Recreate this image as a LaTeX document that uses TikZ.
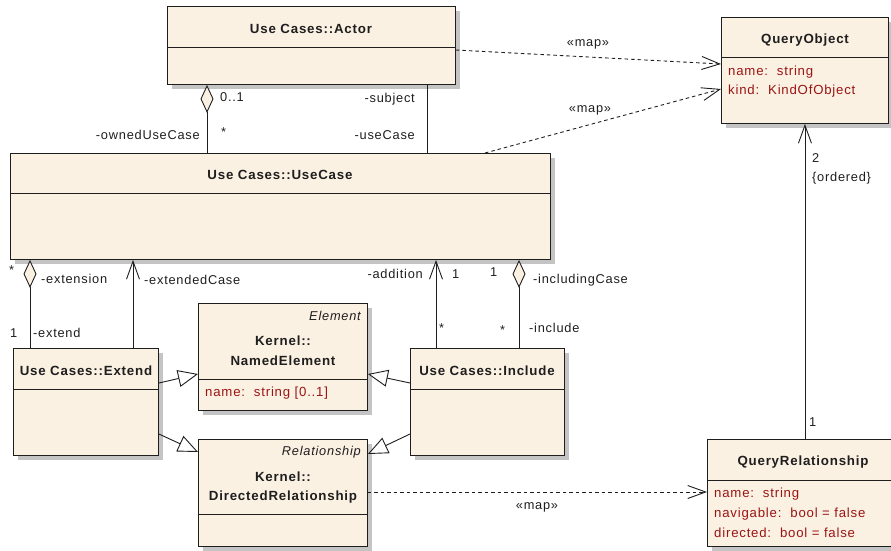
\documentclass[tikz,border=0pt]{standalone}
\usepackage{fontspec}
\setmainfont{Liberation Sans}[LetterSpace=6]
\usetikzlibrary{arrows.meta,calc}
\definecolor{boxfill}{RGB}{251,241,227}
\definecolor{attr}{RGB}{155,20,20}
\definecolor{shadowgray}{RGB}{196,196,196}
\definecolor{ink}{RGB}{30,30,30}
\tikzset{
  umlbox/.style={draw=ink, line width=0.9pt, fill=boxfill, anchor=north west, inner sep=0pt},
  divider/.style={draw=ink, line width=0.9pt},
  boxshadow/.style={fill=shadowgray, draw=none},
  title/.style={font=\fontsize{13.3}{15}\selectfont\bfseries, inner sep=0pt, text=ink},
  lbl/.style={font=\fontsize{12.8}{14}\selectfont, inner sep=0pt, text=ink},
  attrtxt/.style={font=\fontsize{13.2}{15}\selectfont, text=attr, anchor=west, inner sep=0pt},
  stereo/.style={font=\fontsize{12.8}{14}\selectfont\itshape, anchor=east, inner sep=0pt, text=ink},
  assoc/.style={draw=ink, line width=0.9pt},
  nav/.style={assoc, -{Straight Barb[length=18pt,width=13pt]}},
  aggr/.style={assoc, {Diamond[fill=boxfill,length=28pt,width=13pt]}-},
  gen/.style={assoc, -{Triangle[fill=white,length=20pt,width=17pt]}},
  mapdep/.style={assoc, dash pattern=on 3.5pt off 3pt, -{Straight Barb[length=18pt,width=13pt]}},
}
% #1 name, #2 x, #3 y, #4 width, #5 height, #6 divider offset
\newcommand{\umlclassbox}[6]{%
  \fill[boxshadow] (#2+5,#3+5) rectangle ++(#4,#5);
  \node[umlbox, minimum width=#4pt, minimum height=#5pt] (#1) at (#2,#3) {};
  \draw[divider] ($(#1.north west)+(0,#6)$) -- ($(#1.north east)+(0,#6)$);
}
\begin{document}
\begin{tikzpicture}[x=1pt,y=-1pt]
\useasboundingbox (0,0) rectangle (891,550);
% boxes
\umlclassbox{actor}{167}{6}{288}{78}{41}
\umlclassbox{qobj}{721}{17}{167}{106}{40}
\umlclassbox{usecase}{10}{153}{540}{106}{40}
\umlclassbox{extend}{13}{348}{145}{107}{41}
\umlclassbox{named}{198}{303}{169}{107}{76}
\umlclassbox{dr}{198}{439}{169}{107}{75}
\umlclassbox{include}{410}{348}{154}{107}{41}
\umlclassbox{qrel}{707}{439}{193}{107}{41}
% titles
\node[title] (tactor) at (311,29) {Use Cases::Actor};
\node[title] (tqobj) at (805,40) {QueryObject};
\node[title] (tuse) at (280,175) {Use Cases::UseCase};
\node[title] (text) at (86,371) {Use Cases::Extend};
\node[title] (tinc) at (487,371) {Use Cases::Include};
\node[title] (tqrel) at (803,462) {QueryRelationship};
\node[stereo] (sel) at (361,316) {Element};
\node[title] (tne1) at (283,341) {Kernel::};
\node[title] (tne2) at (283,361) {NamedElement};
\node[stereo] (srel) at (361,452) {Relationship};
\node[title] (tdr1) at (283,477) {Kernel::};
\node[title] (tdr2) at (283,497) {DirectedRelationship};
% attributes
\node[attrtxt] (a1) at (728,72) {name:\ \ string};
\node[attrtxt] (a2) at (728,91) {kind:\ \ KindOfObject};
\node[attrtxt] (a3) at (205,393) {name:\ \ string [0..1]};
\node[attrtxt] (a4) at (714,494) {name:\ \ string};
\node[attrtxt] (a5) at (714,514) {navigable:\ \ bool = false};
\node[attrtxt] (a6) at (714,533) {directed:\ \ bool = false};
% connectors
\draw[aggr] ($(actor.south west)+(40,0)$) -- ($(usecase.north west)+(197,0)$);
\draw[assoc] ($(actor.south west)+(260,0)$) -- ($(usecase.north west)+(417,0)$);
\draw[mapdep] ($(actor.north east)+(0,44)$) -- ($(qobj.north west)+(0,47)$);
\draw[mapdep] ($(usecase.north west)+(475,0)$) -- ($(qobj.north west)+(0,72)$);
\draw[nav] (qrel.north -| qobj.south) -- (qobj.south);
\draw[aggr] ($(usecase.south west)+(20,0)$) -- ($(extend.north west)+(17,0)$);
\draw[nav] ($(extend.north west)+(120,0)$) -- ($(usecase.south west)+(123,0)$);
\draw[nav] ($(include.north west)+(26,0)$) -- ($(usecase.south west)+(426,0)$);
\draw[aggr] ($(usecase.south west)+(509,0)$) -- ($(include.north west)+(109,0)$);
\draw[gen] ($(extend.north east)+(0,35)$) -- ($(named.north west)+(0,71)$);
\draw[gen] ($(extend.north east)+(0,86)$) -- ($(dr.north west)+(0,13)$);
\draw[gen] ($(include.north west)+(0,35)$) -- ($(named.north east)+(0,71)$);
\draw[gen] ($(include.north west)+(0,86)$) -- ($(dr.north east)+(0,15)$);
\draw[mapdep] ($(dr.north east)+(0,53)$) -- ($(qrel.north west)+(0,53)$);
% labels
\node[lbl] (m1) at (588,44) {«map»};
\node[lbl] (m2) at (590,110) {«map»};
\node[lbl] (m3) at (537,507) {«map»};
\node[lbl, anchor=west] (l2) at (812,158) {2};
\node[lbl, anchor=west] (lord) at (812,178) {\{ordered\}};
\node[lbl, anchor=west] (l1q) at (809,422) {1};
\node[lbl, anchor=west] (l01) at (220,97) {0..1};
\node[lbl, anchor=east] (lsub) at (415,99) {-subject};
\node[lbl, anchor=west] (lst1) at (221,132) {*};
\node[lbl, anchor=east] (lown) at (200,135) {-ownedUseCase};
\node[lbl, anchor=east] (luc) at (415,135) {-useCase};
\node[lbl, anchor=west] (lst2) at (9,270) {*};
\node[lbl, anchor=west] (lext) at (41,279) {-extension};
\node[lbl, anchor=west] (lextc) at (144,280) {-extendedCase};
\node[lbl, anchor=west] (l1e) at (10,333) {1};
\node[lbl, anchor=west] (lexd) at (33,333) {-extend};
\node[lbl, anchor=east] (ladd) at (423,274) {-addition};
\node[lbl, anchor=west] (l1a) at (452,274) {1};
\node[lbl, anchor=west] (l1i) at (490,272) {1};
\node[lbl, anchor=west] (linc) at (533,280) {-includingCase};
\node[lbl, anchor=west] (lst3) at (439,328) {*};
\node[lbl, anchor=west] (lst4) at (500,330) {*};
\node[lbl, anchor=west] (lincl) at (529,328) {-include};
\end{tikzpicture}
\end{document}
